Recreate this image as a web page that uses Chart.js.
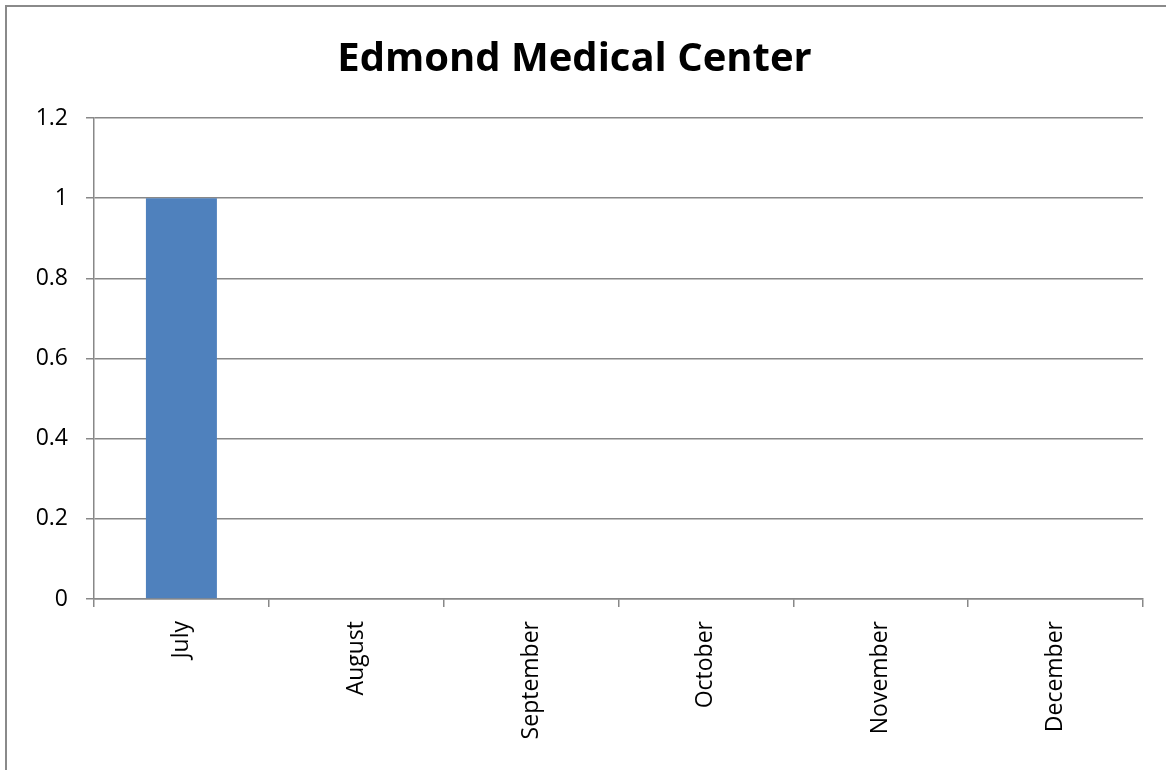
<!DOCTYPE html>
<html>
<head>
<meta charset="utf-8">
<script src="https://cdn.jsdelivr.net/npm/chart.js@4/dist/chart.umd.min.js"></script>
<style>
    body { margin: 0; background: #fff; }
    canvas { display: block; }
</style>
</head>
<body>
<canvas id="medical_chart" width="1166" height="770"></canvas>
<script>
const chartTitle = 'Edmond Medical Center';
const months = ['July', 'August', 'September', 'October', 'November', 'December'];
const visits = [1, 0, 0, 0, 0, 0];
const yTickLabels = ['0', '0.2', '0.4', '0.6', '0.8', '1', '1.2'];

const gridGray = '#888888';

/* outer frame like the Excel chart box (clipped right & bottom) */
const frame = {
    id: 'frame',
    beforeDraw(chart) {
        const c = chart.ctx;
        c.save();
        c.strokeStyle = '#8a8a8a';
        c.lineWidth = 2;
        c.strokeRect(6, 6, 2000, 2000);
        c.restore();
    }
};

new Chart(document.getElementById('medical_chart'), {
    type: 'bar',
    data: {
        labels: months,
        datasets: [{
            data: visits,
            backgroundColor: '#4F81BD',
            borderWidth: 0,
            barPercentage: 0.406,
            categoryPercentage: 1
        }]
    },
    options: {
        responsive: false,
        animation: false,
        layout: { padding: { top: 30, left: 6, right: 23, bottom: 0 } },
        plugins: {
            legend: { display: false },
            tooltip: { enabled: false },
            title: {
                display: true,
                text: chartTitle,
                color: '#000',
                font: { family: 'Open Sans', size: 40, weight: 'bold' },
                padding: { top: 6, bottom: 34 }
            }
        },
        scales: {
            x: {
                grid: { drawOnChartArea: false, color: gridGray, lineWidth: 1.5, tickLength: 8, offset: true },
                border: { color: gridGray, width: 1.5 },
                ticks: {
                    color: '#000',
                    font: { family: 'Open Sans', size: 23 },
                    minRotation: 90,
                    maxRotation: 90,
                    padding: 14
                },
                afterFit(scale) { scale.height = 171; }
            },
            y: {
                min: 0,
                max: 1.2,
                grid: { color: gridGray, lineWidth: 1.5, tickLength: 8 },
                border: { color: gridGray, width: 1.5 },
                ticks: {
                    stepSize: 0.2,
                    color: '#000',
                    font: { family: 'Open Sans', size: 23 },
                    padding: 18,
                    callback: (v, i) => yTickLabels[i]
                },
                afterFit(scale) { scale.width = 88; }
            }
        }
    },
    plugins: [frame]
});
</script>
</body>
</html>
